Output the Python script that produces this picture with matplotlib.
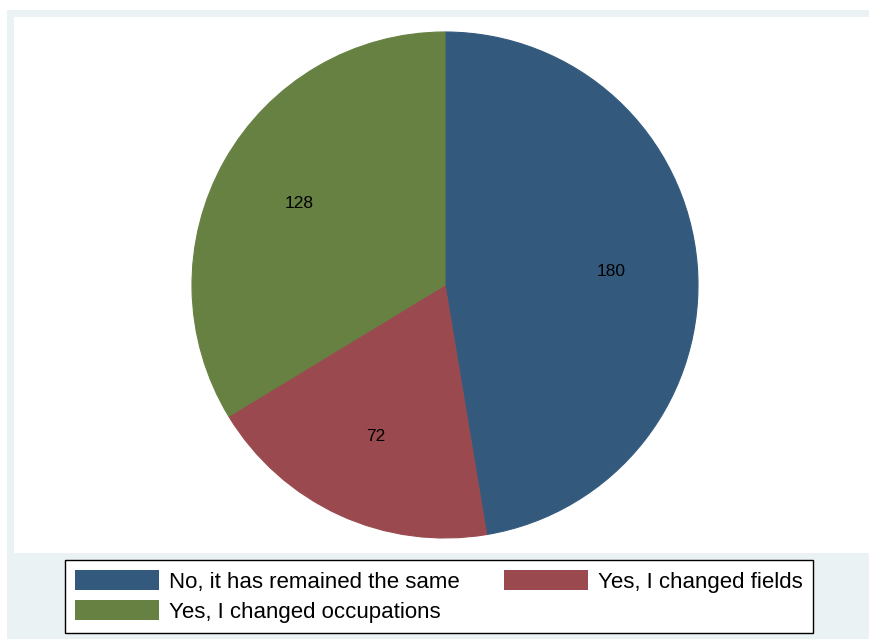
import matplotlib
matplotlib.use("Agg")
import matplotlib.pyplot as plt
from matplotlib.patches import Rectangle

plt.rcParams['font.family'] = ['Liberation Sans', 'DejaVu Sans']

# data
labels = ["No, it has remained the same", "Yes, I changed fields",
          "Yes, I changed occupations"]
counts = [180, 72, 128]
colors = ["#335A7D", "#9A4A4F", "#668142"]

W, H = 870, 639
fig = plt.figure(figsize=(W / 100, H / 100), dpi=100)
fig.patch.set_facecolor("white")

# stata-like graph region: light bluish frame with white plot region
fig.patches.append(Rectangle((7 / W, 0), 1, 1 - 10 / H, transform=fig.transFigure,
                             facecolor="#EAF2F3", edgecolor="none", zorder=-2))
fig.patches.append(Rectangle((14 / W, 1 - 553 / H), 1, (553 - 17) / H,
                             transform=fig.transFigure,
                             facecolor="white", edgecolor="none", zorder=-1))

# pie axes, centre (445, 285) px, radius 253 px
cx, cy, r = 445, 285, 253
ax = fig.add_axes([(cx - r) / W, (H - cy - r) / H, 2 * r / W, 2 * r / H])
ax.set_facecolor("none")
wedges, texts = ax.pie(counts, colors=colors, startangle=90, counterclock=False,
                       labels=[str(c) for c in counts], labeldistance=0.66,
                       textprops=dict(fontsize=12.5, color="black", ha="center", va="center"),
                       wedgeprops=dict(linewidth=0.8))
for w, c in zip(wedges, colors):
    w.set_edgecolor(c)
ax.set_xlim(-1, 1)
ax.set_ylim(-1, 1)
ax.axis("off")

# legend, filled row by row like stata: (blue, red) / (green)
order = [0, 2, 1]
leg = fig.legend([wedges[i] for i in order], [labels[i] for i in order], ncol=2,
                 loc="upper left", bbox_to_anchor=(65 / W, 1 - 560 / H), borderaxespad=0,
                 fontsize=16, frameon=True, fancybox=False, framealpha=1,
                 edgecolor="black", facecolor="white",
                 handlelength=3.8, handleheight=1.0, handletextpad=0.42,
                 columnspacing=2.0, labelspacing=0.35, borderpad=0.45)
leg.get_frame().set_linewidth(1.0)
for h in leg.legend_handles:
    h.set_linewidth(0)

fig.savefig("out.png", dpi=100)
